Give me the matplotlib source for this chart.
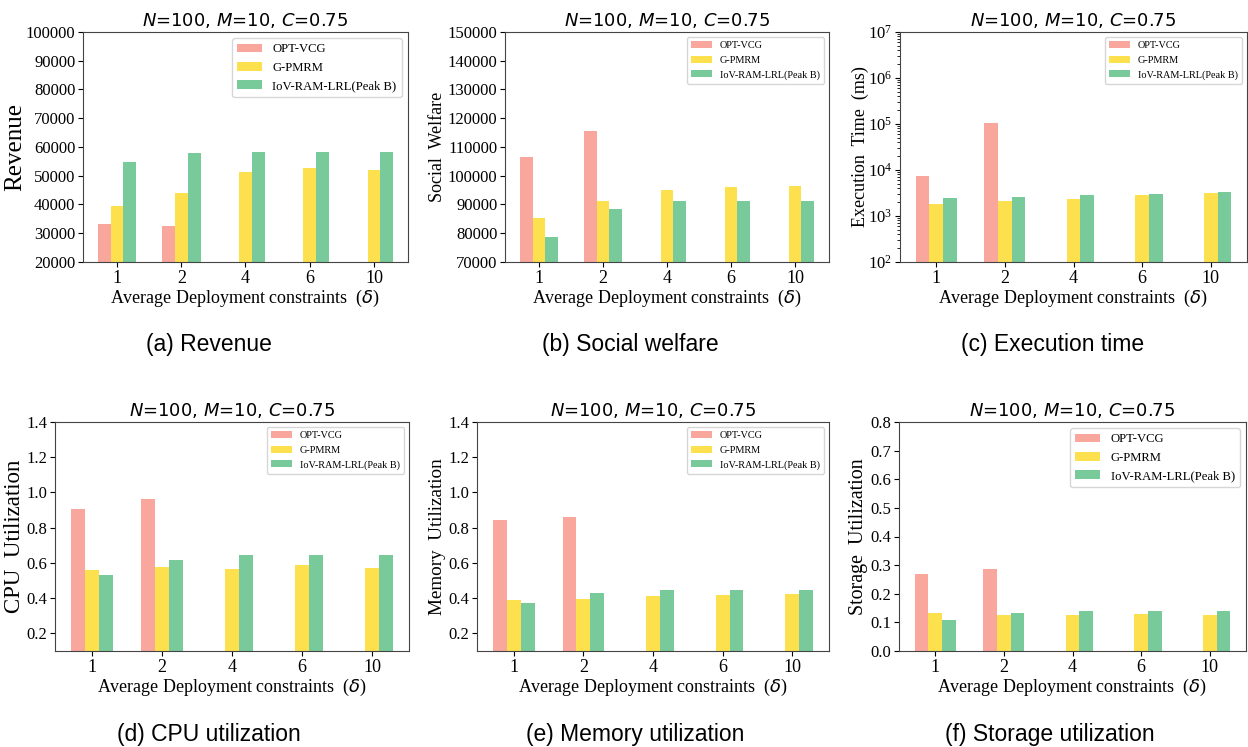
import numpy as np
import matplotlib
matplotlib.use("Agg")
import matplotlib.pyplot as plt

nan = np.nan
deltas = ["1", "2", "4", "6", "10"]
series = ["OPT-VCG", "G-PMRM", "IoV-RAM-LRL(Peak B)"]
colors = ["#F9A69C", "#FDE04D", "#78CA9B"]

revenue_opt = [33200, 32500, nan, nan, nan]
revenue_gp = [39500, 44000, 51200, 52600, 51900]
revenue_iov = [54700, 57800, 58200, 58200, 58200]

welfare_opt = [106500, 115500, nan, nan, nan]
welfare_gp = [85300, 91200, 95000, 96000, 96400]
welfare_iov = [78700, 88400, 91200, 91200, 91200]

time_opt = [7300, 107000, nan, nan, nan]
time_gp = [1800, 2090, 2300, 2810, 3110]
time_iov = [2420, 2550, 2810, 2960, 3270]

cpu_opt = [0.905, 0.965, nan, nan, nan]
cpu_gp = [0.56, 0.577, 0.565, 0.588, 0.572]
cpu_iov = [0.532, 0.615, 0.645, 0.645, 0.645]

mem_opt = [0.842, 0.858, nan, nan, nan]
mem_gp = [0.39, 0.395, 0.413, 0.418, 0.424]
mem_iov = [0.373, 0.43, 0.447, 0.447, 0.447]

sto_opt = [0.268, 0.286, nan, nan, nan]
sto_gp = [0.133, 0.126, 0.126, 0.130, 0.126]
sto_iov = [0.109, 0.133, 0.140, 0.140, 0.140]

W, H = 1248, 747
fig = plt.figure(figsize=(W / 100, H / 100), dpi=100)

serif = "Liberation Serif"
title = r"$N$=100, $M$=10, $C$=0.75"
xlabel = r"Average Deployment constraints  ($\delta$)"


def panel(box, data, ylabel, ylab_size, ylab_x, ylim, yticks, caption, cap_x, cap_y,
          leg_size=7.4, log=False):
    l, t, r, b = box
    ax = fig.add_axes([l / W, 1 - b / H, (r - l) / W, (b - t) / H])
    x = np.arange(1, len(deltas) + 1)
    w = 0.2
    for i, (vals, c, lab) in enumerate(zip(data, colors, series)):
        ax.bar(x + (i - 1) * w, vals, w, color=c, label=lab)
    if log:
        ax.set_yscale("log")
    ax.set_ylim(*ylim)
    if yticks is not None:
        ax.set_yticks(yticks)
    ax.set_xticks(x)
    ax.set_xticklabels(deltas)
    ax.tick_params(length=3.5, pad=2)
    for lbl in ax.get_xticklabels():
        lbl.set_fontfamily(serif)
        lbl.set_fontsize(13)
    for lbl in ax.get_yticklabels():
        lbl.set_fontfamily(serif)
        lbl.set_fontsize(12)
    ax.set_title(title, fontsize=13, pad=4)
    ax.set_xlabel(xlabel, fontsize=13, fontfamily=serif, labelpad=1)
    ax.set_ylabel(ylabel, fontsize=ylab_size, fontfamily=serif, va="center")
    ax.yaxis.set_label_coords((ylab_x - l) / (r - l), 0.5)
    for s in ax.spines.values():
        s.set_color("#444444")
    ax.legend(loc="upper right", prop={"family": serif, "size": leg_size})
    fig.text(cap_x / W, 1 - cap_y / H, caption, ha="center", va="center",
             fontsize=16.5, fontfamily="Liberation Sans")
    return ax


panel((83, 32, 408, 262), [revenue_opt, revenue_gp, revenue_iov], "Revenue", 18, 15,
      (20000, 100000), np.arange(20000, 100001, 10000), "(a) Revenue", 209, 345, leg_size=9.1)
panel((505, 32, 829, 262), [welfare_opt, welfare_gp, welfare_iov], "Social  Welfare", 13, 438,
      (70000, 150000), np.arange(70000, 150001, 10000), "(b) Social welfare", 630, 345)
panel((900, 32, 1247, 262), [time_opt, time_gp, time_iov], "Execution  Time  (ms)", 13, 860,
      (100, 1e7), None, "(c) Execution time", 1053, 345, log=True)
panel((55, 422, 409, 651), [cpu_opt, cpu_gp, cpu_iov], "CPU  Utilization", 16.5, 15,
      (0.1, 1.4), np.arange(0.2, 1.41, 0.2), "(d) CPU utilization", 209, 734)
panel((477, 422, 829, 651), [mem_opt, mem_gp, mem_iov], "Memory  Utilization", 13.8, 438,
      (0.1, 1.4), np.arange(0.2, 1.41, 0.2), "(e) Memory utilization", 635, 734)
panel((899, 422, 1246, 651), [sto_opt, sto_gp, sto_iov], "Storage  Utilization", 14.4, 859,
      (0.0, 0.8), np.arange(0.0, 0.81, 0.1), "(f) Storage utilization", 1050, 734, leg_size=9.1)

fig.savefig("out.png", dpi=100)
